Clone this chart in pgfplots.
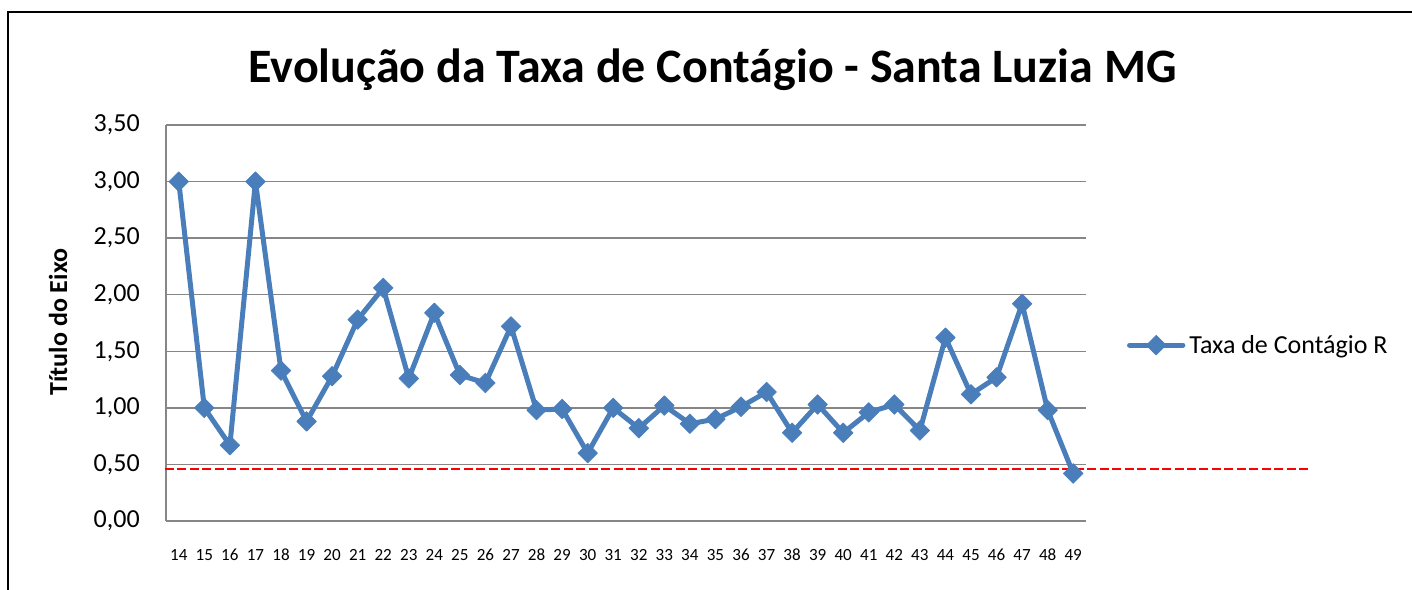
\documentclass[border=0pt]{standalone}
\usepackage{fontspec}
\setmainfont{Carlito}
\usepackage{pgfplots}
\pgfplotsset{compat=1.18}
\definecolor{excelblue}{HTML}{4A7EBB}
\definecolor{gridgray}{HTML}{868686}
\begin{document}
\begin{tikzpicture}
\useasboundingbox (0pt,0pt) rectangle (1059pt,-441.75pt);
\draw[line width=2pt] (6pt,-460pt) -- (6pt,-9pt) -- (1075pt,-9pt);
\node[anchor=base, inner sep=0pt, font=\fontsize{36}{43}\selectfont\bfseries] at (534.4pt,-62pt) {Evolução da Taxa de Contágio - Santa Luzia MG};
\begin{axis}[
  at={(124.5pt,-390.75pt)}, anchor=south west,
  width=690pt, height=297pt, scale only axis,
  xmin=13.5, xmax=49.5, ymin=0, ymax=3.5,
  xtick={14,...,49},
  ytick={0,0.5,1,1.5,2,2.5,3,3.5},
  axis x line*=bottom, axis y line*=left,
  axis line style={gridgray, line width=1.1pt, -},
  ymajorgrids, grid style={gridgray, line width=1.1pt},
  major tick length=0pt,
  clip=false,
  /pgf/number format/assume math mode=true,
  yticklabel style={/pgf/number format/.cd, fixed, fixed zerofill, precision=2, use comma, /tikz/.cd,
    anchor=east, inner sep=0pt, xshift=-19.5pt, font=\fontsize{19.5}{23}\selectfont},
  xticklabel style={anchor=base, inner sep=0pt, yshift=-29.25pt, font=\fontsize{12.8}{15}\selectfont},
  ylabel={Título do Eixo},
  ylabel style={at={(axis description cs:-0.1174,0.5025)}, anchor=center, font=\bfseries\fontsize{19.5}{23}\selectfont},
  legend style={at={(axis description cs:1.0446,0.444)}, anchor=west, draw=none, fill=none, inner sep=0pt, outer sep=0pt,
    font=\fontsize{19.5}{23}\selectfont, nodes={inner sep=3pt}},
  legend image code/.code={\draw[mark repeat=2, mark phase=2, #1] plot coordinates {(0pt,0pt) (20pt,0pt) (40pt,0pt)};},
]
\addplot[excelblue, line width=3.75pt, line join=round, line cap=round, mark=square*, mark size=5.2pt,
  mark options={solid, fill=excelblue, draw=excelblue, line width=0.5pt, rotate=45}]
coordinates {
(14,3.00) (15,1.00) (16,0.67) (17,3.00) (18,1.33) (19,0.88) (20,1.28) (21,1.78)
(22,2.06) (23,1.26) (24,1.84) (25,1.29) (26,1.22) (27,1.72) (28,0.98) (29,0.99)
(30,0.60) (31,1.00) (32,0.82) (33,1.02) (34,0.86) (35,0.90) (36,1.01) (37,1.14)
(38,0.78) (39,1.03) (40,0.78) (41,0.96) (42,1.03) (43,0.80) (44,1.62) (45,1.12)
(46,1.27) (47,1.92) (48,0.98) (49,0.42)
};
\addlegendentry{Taxa de Contágio R}
\addplot[red, line width=1.5pt, dash pattern=on 6.75pt off 2.6pt, forget plot] coordinates {(13.45,0.46) (58.32,0.46)};
\end{axis}
\end{tikzpicture}
\end{document}
